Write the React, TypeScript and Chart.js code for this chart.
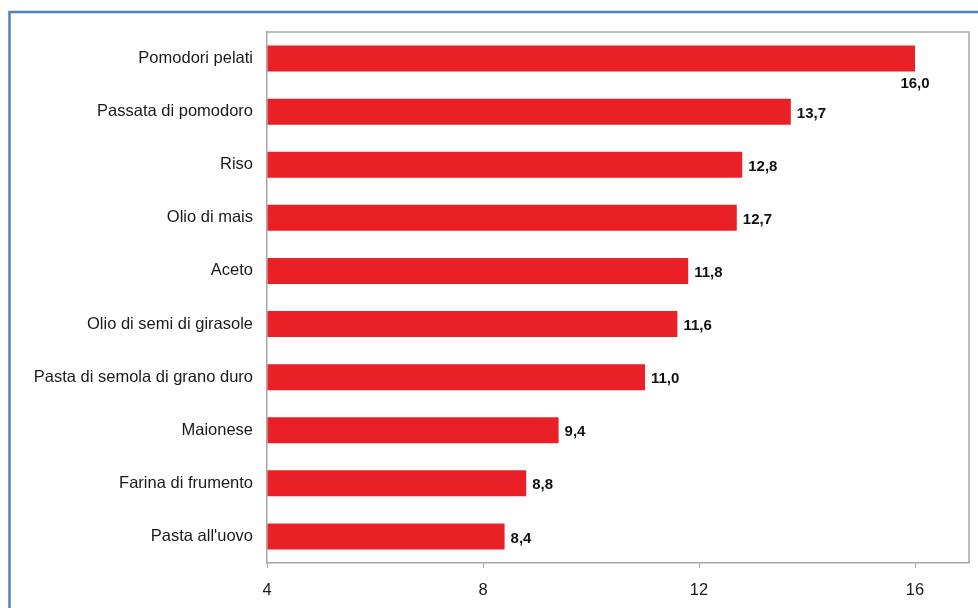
import React, { useEffect, useRef } from "react";
import { Chart, registerables } from "chart.js";

Chart.register(...registerables);

const categories = [
  "Pomodori pelati",
  "Passata di pomodoro",
  "Riso",
  "Olio di mais",
  "Aceto",
  "Olio di semi di girasole",
  "Pasta di semola di grano duro",
  "Maionese",
  "Farina di frumento",
  "Pasta all'uovo",
];

const values = [16.0, 13.7, 12.8, 12.7, 11.8, 11.6, 11.0, 9.4, 8.8, 8.4];

const tickValues = [4, 8, 12, 16];
const axisMin = 4;
const axisMax = 17;

const FONT = "'Liberation Sans', Arial, Helvetica, sans-serif";
const GRAY = "#a6a6a6";

const fmt = (v: number) => v.toFixed(1).replace(".", ",");

// Blue frame around the figure and the grey box around the plot area
const framePlugin = {
  id: "frame",
  beforeDraw(chart: any) {
    const { ctx, width, height } = chart;
    ctx.save();
    ctx.fillStyle = "#ffffff";
    ctx.fillRect(0, 0, width, height);
    ctx.strokeStyle = "#4f81bd";
    ctx.lineWidth = 2.5;
    ctx.strokeRect(9.5, 12, width + 50, height + 50);
    ctx.restore();
  },
  afterDraw(chart: any) {
    const { ctx, chartArea } = chart;
    ctx.save();
    ctx.strokeStyle = GRAY;
    ctx.lineWidth = 1.5;
    ctx.beginPath();
    ctx.moveTo(chartArea.left, chartArea.top);
    ctx.lineTo(chartArea.right, chartArea.top);
    ctx.lineTo(chartArea.right, chartArea.bottom);
    ctx.stroke();
    ctx.restore();
  },
};

// Value labels: right of each bar end; the longest bar's label sits under its end
const valueLabels = {
  id: "valueLabels",
  afterDatasetsDraw(chart: any) {
    const { ctx } = chart;
    const meta = chart.getDatasetMeta(0);
    const data = chart.data.datasets[0].data as number[];
    const maxVal = Math.max(...data);
    ctx.save();
    ctx.font = `bold 15px ${FONT}`;
    ctx.fillStyle = "#111111";
    meta.data.forEach((bar: any, i: number) => {
      const v = data[i];
      if (v === maxVal) {
        ctx.textAlign = "center";
        ctx.textBaseline = "middle";
        ctx.fillText(fmt(v), bar.x, bar.y + bar.height / 2 + 12);
      } else {
        ctx.textAlign = "left";
        ctx.textBaseline = "middle";
        ctx.fillText(fmt(v), bar.x + 6, bar.y + 2);
      }
    });
    ctx.restore();
  },
};

export default function App() {
  const canvasRef = useRef<HTMLCanvasElement | null>(null);

  useEffect(() => {
    if (!canvasRef.current) return;
    const chart = new Chart(canvasRef.current, {
      type: "bar",
      data: {
        labels: categories,
        datasets: [
          {
            data: values,
            base: axisMin,
            backgroundColor: "#ea2027",
            borderWidth: 0,
            categoryPercentage: 1,
            barPercentage: 0.49,
          } as any,
        ],
      },
      options: {
        indexAxis: "y",
        responsive: false,
        animation: false,
        devicePixelRatio: 1,
        layout: { padding: { left: 0, top: 32, right: 9, bottom: 0 } },
        plugins: {
          legend: { display: false },
          tooltip: { enabled: false },
          title: { display: false },
        },
        scales: {
          x: {
            type: "linear",
            min: axisMin,
            max: axisMax,
            afterBuildTicks(scale: any) {
              scale.ticks = tickValues.map((v) => ({ value: v }));
            },
            afterFit(scale: any) {
              scale.height = 45;
            },
            grid: {
              display: true,
              drawOnChartArea: false,
              drawTicks: true,
              tickLength: 5,
              color: GRAY,
              lineWidth: 1,
            },
            border: { display: true, color: GRAY, width: 1.5 },
            ticks: {
              padding: 13,
              color: "#1a1a1a",
              font: { family: FONT, size: 16.5 },
              maxRotation: 0,
              callback: (v: any) => String(v),
            },
          },
          y: {
            afterFit(scale: any) {
              scale.width = 267;
            },
            grid: { display: false, drawTicks: false },
            border: { display: true, color: GRAY, width: 1.5 },
            ticks: {
              padding: 14,
              color: "#1a1a1a",
              font: { family: FONT, size: 16.5 },
            },
          },
        },
      },
      plugins: [framePlugin, valueLabels],
    });
    return () => chart.destroy();
  }, []);

  return (
    <div style={{ position: "absolute", left: 0, top: 0, width: 978, height: 608, background: "#fff" }}>
      <canvas ref={canvasRef} width={978} height={608} />
    </div>
  );
}
